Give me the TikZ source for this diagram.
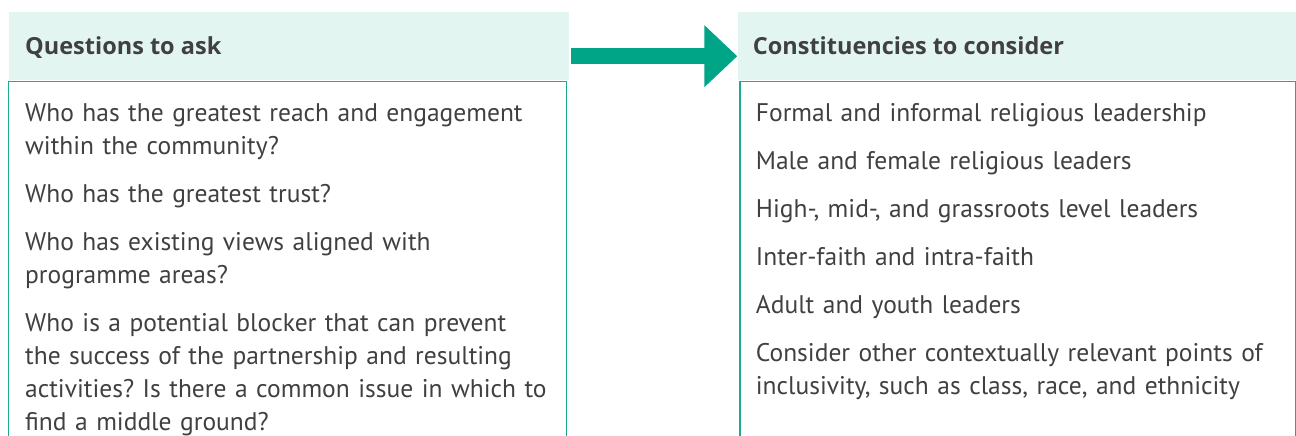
\documentclass[tikz,border=0pt]{standalone}
\usepackage{fontspec}
\setmainfont{PT Sans}
\newfontfamily\hdrfont{Open Sans}
\usetikzlibrary{arrows.meta}
\definecolor{hdrfill}{HTML}{E3F5F1}
\definecolor{bordercol}{HTML}{1DAB8F}
\definecolor{arrowcol}{HTML}{00A587}
\definecolor{txtcol}{HTML}{404041}
\tikzset{
  hdrbox/.style={fill=hdrfill, draw=none, anchor=north west, inner sep=0, minimum height=68pt},
  bodybox/.style={draw=bordercol, line width=1.5pt, anchor=north west, inner sep=0, minimum height=380pt},
  hdrtext/.style={anchor=base west, inner sep=0, text=txtcol, font=\hdrfont\fontsize{23.5}{28}\selectfont\bfseries},
  bodytext/.style={anchor=north west, inner sep=0, text=txtcol, text width=545pt, align=left,
    font=\fontsize{25.5}{33}\selectfont},
  bigarrow/.style={draw=arrowcol, line width=16pt, -{Triangle[length=33pt,width=60pt,fill=arrowcol]}}
}
\begin{document}
\frenchspacing
\begin{tikzpicture}[x=1pt,y=-1pt]
\useasboundingbox (0,0) rectangle (1296,436);
% headers
\node[hdrbox, minimum width=560pt] (qhead) at (9,12) {};
\node[hdrbox, minimum width=559pt] (chead) at (737.3,12) {};
% bodies
\node[bodybox, minimum width=558.2pt] (qbody) at (7.5,81) {};
\node[bodybox, minimum width=555.7pt] (cbody) at (739.3,81) {};
% header titles
\node[hdrtext] (qtitle) at (25,55) {Questions to ask};
\node[hdrtext] (ctitle) at (752.7,55) {Constituencies to consider};
% arrow
\coordinate (a1) at ([shift={(1.7,10)}]qhead.east);
\coordinate (a2) at ([shift={(0,10)}]chead.west);
\draw[bigarrow] (a1) -- (a2);
% body texts
\node[bodytext] (qtext) at (25,97.9) {\frenchspacing\setlength{\parindent}{0pt}\setlength{\parskip}{15pt}%
\strut Who has the greatest reach and engagement\\within the community?\par
Who has the greatest trust?\par
Who has existing views aligned with\\programme areas?\par
Who is a potential blocker that can prevent\\the success of the partnership and resulting\\activities? Is there a common issue in which to\\find a middle ground?};
\node[bodytext] (ctext) at (755.7,97.9) {\frenchspacing\setlength{\parindent}{0pt}\setlength{\parskip}{15pt}%
\strut Formal and informal religious leadership\par
Male and female religious leaders\par
High-, mid-, and grassroots level leaders\par
Inter-faith and intra-faith\par
Adult and youth leaders\par
Consider other contextually relevant points of\\inclusivity, such as class, race, and ethnicity};
\end{tikzpicture}
\end{document}
